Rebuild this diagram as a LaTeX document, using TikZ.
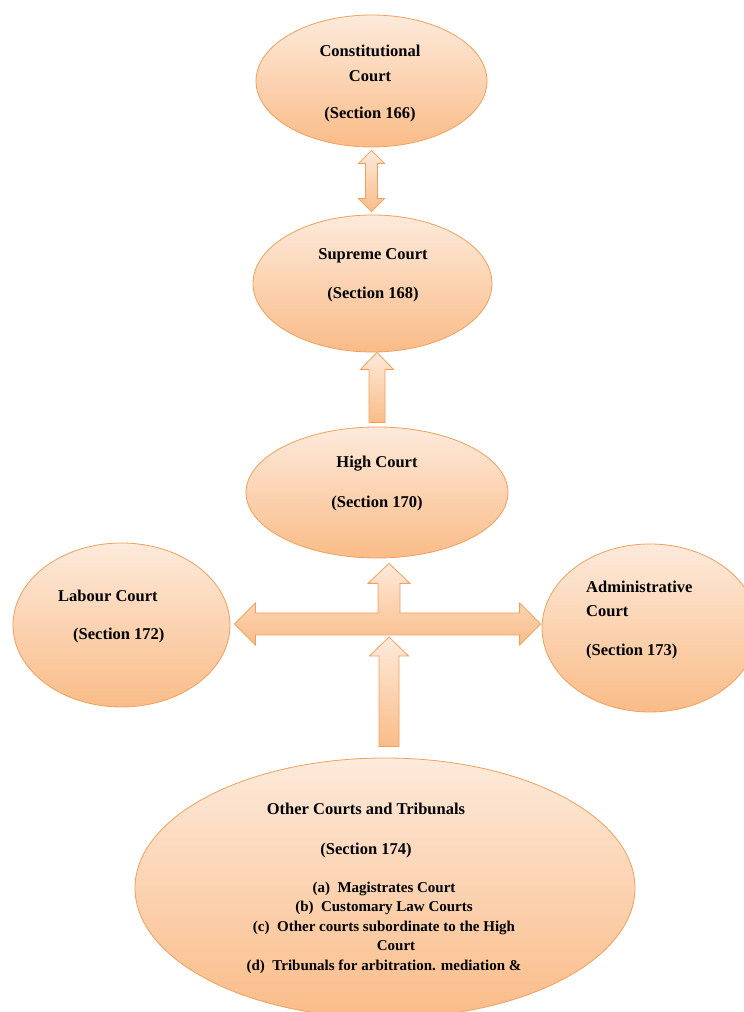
\documentclass[tikz,border=0pt]{standalone}
\usepackage{fontspec}
\setmainfont{Liberation Serif}
\usetikzlibrary{calc,shapes.geometric}

\definecolor{peachtop}{RGB}{253,234,219}
\definecolor{peachbot}{RGB}{250,188,136}
\definecolor{peachline}{RGB}{240,160,92}

% block arrow pointing up: base, tip, shaft half width, head half width, head length
\newcommand{\uparr}[5]{\path[blk] let \p1=#1, \p2=#2 in
	(\x1-#3,\y1) -- (\x1-#3,\y2-#5) -- (\x1-#4,\y2-#5) -- (\x1,\y2) -- (\x1+#4,\y2-#5) -- (\x1+#3,\y2-#5) -- (\x1+#3,\y1) -- cycle;}
% block arrow with two heads: upper tip, lower tip, shaft half width, head half width, head length
\newcommand{\updownarr}[5]{\path[blk] let \p1=#1, \p2=#2 in
	(\x1,\y1) -- (\x1+#4,\y1-#5) -- (\x1+#3,\y1-#5) -- (\x1+#3,\y2+#5) -- (\x1+#4,\y2+#5) -- (\x1,\y2)
	-- (\x1-#4,\y2+#5) -- (\x1-#3,\y2+#5) -- (\x1-#3,\y1-#5) -- (\x1-#4,\y1-#5) -- cycle;}

\begin{document}
\begin{tikzpicture}[x = 1pt, y = 1pt,
	court/.style = {ellipse, draw = peachline, line width = 0.8pt, top color = peachtop, bottom color = peachbot, inner sep = 0pt},
	blk/.style = {draw = peachline, line width = 0.8pt, top color = peachtop, bottom color = peachbot},
	lbl/.style = {font = \bfseries\fontsize{16.5}{25}\selectfont, align = center, inner sep = 0pt},
	lst/.style = {font = \bfseries\fontsize{15}{19.5}\selectfont, align = center, inner sep = 0pt}]
	\useasboundingbox (0,0) rectangle (744,1012);

	% the courts
	\node[court, minimum width = 231pt, minimum height = 132pt] (const) at (371.5,931) {};
	\node[court, minimum width = 239pt, minimum height = 137pt] (sup) at (372.5,728.5) {};
	\node[court, minimum width = 262pt, minimum height = 131pt] (high) at (377,519.5) {};
	\node[court, minimum width = 217pt, minimum height = 164pt] (lab) at (121.5,387) {};
	\node[court, minimum width = 216pt, minimum height = 168pt] (adm) at (650,384) {};
	\node[court, minimum width = 500pt, minimum height = 260pt] (oth) at (385,124) {};

	\node[lbl] (constT) at (370,928) {Constitutional\\Court\\[12pt](Section 166)};
	\node[lbl] (supT) at (373,736.4) {Supreme Court\\[14pt](Section 168)};
	\node[lbl] (highT) at (377,528) {High Court\\[15pt](Section 170)};
	\node[lbl, align = left, anchor = west] (labT) at (58,395) {Labour Court\\[13pt]\hspace*{15pt}(Section 172)};
	\node[lbl, align = left, anchor = west, font = \bfseries\fontsize{16.5}{24}\selectfont] (admT) at (586,392.4) {Administrative\\Court\\[15pt](Section 173)};
	\node[lbl] (othT) at (366,181) {Other Courts and Tribunals\\[15pt](Section 174)};
	\node[lst] (othL) at (384,84.5) {(a)\enspace Magistrates Court\\(b)\enspace Customary Law Courts\\(c)\enspace Other courts subordinate to the High\\\hspace*{24pt}Court\\(d)\enspace Tribunals for arbitration. mediation \&};

	% arrows
	\coordinate (hub) at (389,388);
	\updownarr{([yshift=-3pt]const.south)}{([yshift=3pt]sup.north)}{6pt}{13pt}{13pt}
	\uparr{([yshift=4pt]high.north)}{(sup.south)}{8pt}{16.5pt}{17pt}
	\path[blk] let \p1 = (hub), \p2 = (lab.east), \p3 = (adm.west), \p4 = (high.south) in
		(\x2+4,\y1) -- (\x2+25,\y1+21) -- (\x2+25,\y1+11) -- (\x1-11,\y1+11) -- (\x1-11,\y4-25) -- (\x1-21,\y4-25)
		-- (\x1,\y4-5) -- (\x1+21,\y4-25) -- (\x1+11,\y4-25) -- (\x1+11,\y1+11) -- (\x3-22,\y1+11) -- (\x3-22,\y1+21)
		-- (\x3-1,\y1) -- (\x3-22,\y1-21) -- (\x3-22,\y1-11) -- (\x2+25,\y1-11) -- (\x2+25,\y1-21) -- cycle;
	\uparr{($(hub |- oth.north)+(0,11)$)}{([yshift=-13pt]hub)}{10pt}{19.5pt}{19pt}
\end{tikzpicture}
\end{document}
